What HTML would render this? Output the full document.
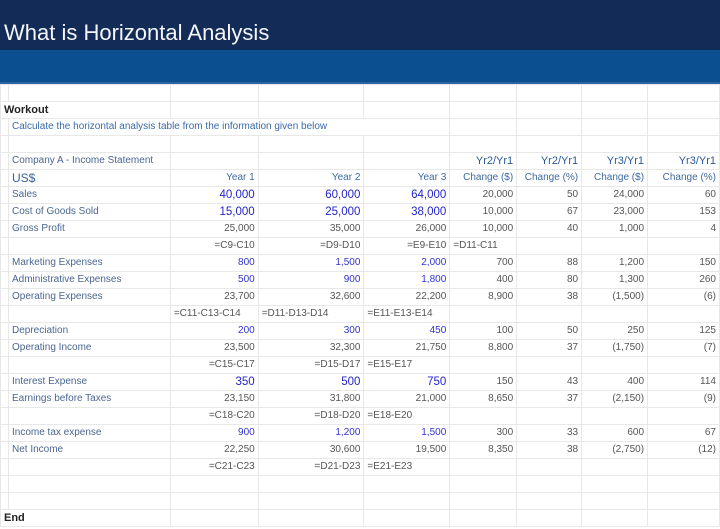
<!DOCTYPE html>
<html><head><meta charset="utf-8"><style>
body{margin:0;width:720px;height:529px;overflow:hidden;background:#fff;font-family:"Liberation Sans",sans-serif;position:relative}
.top{position:absolute;left:0;top:0;width:720px;height:50px;background:#132b57}
.title{position:absolute;left:4px;top:20px;color:#f4f6fa;font-size:22px;line-height:26px}
.band{position:absolute;left:0;top:50px;width:720px;height:32px;background:#0b4f91;border-bottom:2px solid #2a66a6}
table{position:absolute;left:0;top:84px;border-collapse:collapse;table-layout:fixed}
td{height:16px;padding:0 3px;border:1px solid #e8e8e8;font-size:10px;line-height:16px;color:#555;text-align:right;white-space:nowrap;overflow:visible}
td.l{text-align:left;color:#4a6690}
.b{color:#3333cc}.B{color:#2424c8;font-size:11.5px}
.h{color:#2a5a9a;font-size:11px}.hs{color:#3f6aa0;font-size:10px}
</style></head><body>
<div class="top"><div class="title">What is Horizontal Analysis</div></div>
<div class="band"></div>
<table>
<colgroup><col style="width:8px"><col style="width:162px"><col style="width:88px"><col style="width:106px"><col style="width:86px"><col style="width:67px"><col style="width:65px"><col style="width:66px"><col style="width:72px"></colgroup>
<tr><td></td><td></td><td></td><td></td><td></td><td></td><td></td><td></td><td></td></tr>
<tr><td class="l" colspan="2" style="color:#222;font-weight:bold;font-size:11px">Workout</td><td></td><td></td><td></td><td></td><td></td><td></td><td></td></tr>
<tr><td></td><td class="l" colspan="4" style="color:#3a6aa8">Calculate the horizontal analysis table from the information given below</td><td></td><td></td><td></td><td></td></tr>
<tr><td></td><td></td><td></td><td></td><td></td><td></td><td></td><td></td><td></td></tr>
<tr><td></td><td class="l">Company A - Income Statement</td><td></td><td></td><td></td><td class="h">Yr2/Yr1</td><td class="h">Yr2/Yr1</td><td class="h">Yr3/Yr1</td><td class="h">Yr3/Yr1</td></tr>
<tr><td></td><td class="l" style="font-size:12px;color:#3a5f95">US$</td><td class="hs">Year 1</td><td class="hs">Year 2</td><td class="hs">Year 3</td><td class="hs">Change ($)</td><td class="hs">Change (%)</td><td class="hs">Change ($)</td><td class="hs">Change (%)</td></tr>
<tr><td></td><td class="l">Sales</td><td class="B">40,000</td><td class="B">60,000</td><td class="B">64,000</td><td>20,000</td><td>50</td><td>24,000</td><td>60</td></tr>
<tr><td></td><td class="l">Cost of Goods Sold</td><td class="B">15,000</td><td class="B">25,000</td><td class="B">38,000</td><td>10,000</td><td>67</td><td>23,000</td><td>153</td></tr>
<tr><td></td><td class="l">Gross Profit</td><td>25,000</td><td>35,000</td><td>26,000</td><td>10,000</td><td>40</td><td>1,000</td><td>4</td></tr>
<tr><td></td><td></td><td>=C9-C10</td><td>=D9-D10</td><td>=E9-E10</td><td class="l" style="color:#555">=D11-C11</td><td></td><td></td><td></td></tr>
<tr><td></td><td class="l">Marketing Expenses</td><td class="b">800</td><td class="b">1,500</td><td class="b">2,000</td><td>700</td><td>88</td><td>1,200</td><td>150</td></tr>
<tr><td></td><td class="l">Administrative Expenses</td><td class="b">500</td><td class="b">900</td><td class="b">1,800</td><td>400</td><td>80</td><td>1,300</td><td>260</td></tr>
<tr><td></td><td class="l">Operating Expenses</td><td>23,700</td><td>32,600</td><td>22,200</td><td>8,900</td><td>38</td><td>(1,500)</td><td>(6)</td></tr>
<tr><td></td><td></td><td class="l" style="color:#555">=C11-C13-C14</td><td class="l" style="color:#555">=D11-D13-D14</td><td class="l" style="color:#555">=E11-E13-E14</td><td></td><td></td><td></td><td></td></tr>
<tr><td></td><td class="l">Depreciation</td><td class="b">200</td><td class="b">300</td><td class="b">450</td><td>100</td><td>50</td><td>250</td><td>125</td></tr>
<tr><td></td><td class="l">Operating Income</td><td>23,500</td><td>32,300</td><td>21,750</td><td>8,800</td><td>37</td><td>(1,750)</td><td>(7)</td></tr>
<tr><td></td><td></td><td>=C15-C17</td><td>=D15-D17</td><td class="l" style="color:#555">=E15-E17</td><td></td><td></td><td></td><td></td></tr>
<tr><td></td><td class="l">Interest Expense</td><td class="B">350</td><td class="B">500</td><td class="B">750</td><td>150</td><td>43</td><td>400</td><td>114</td></tr>
<tr><td></td><td class="l">Earnings before Taxes</td><td>23,150</td><td>31,800</td><td>21,000</td><td>8,650</td><td>37</td><td>(2,150)</td><td>(9)</td></tr>
<tr><td></td><td></td><td>=C18-C20</td><td>=D18-D20</td><td class="l" style="color:#555">=E18-E20</td><td></td><td></td><td></td><td></td></tr>
<tr><td></td><td class="l">Income tax expense</td><td class="b">900</td><td class="b">1,200</td><td class="b">1,500</td><td>300</td><td>33</td><td>600</td><td>67</td></tr>
<tr><td></td><td class="l">Net Income</td><td>22,250</td><td>30,600</td><td>19,500</td><td>8,350</td><td>38</td><td>(2,750)</td><td>(12)</td></tr>
<tr><td></td><td></td><td>=C21-C23</td><td>=D21-D23</td><td class="l" style="color:#555">=E21-E23</td><td></td><td></td><td></td><td></td></tr>
<tr><td></td><td></td><td></td><td></td><td></td><td></td><td></td><td></td><td></td></tr>
<tr><td></td><td></td><td></td><td></td><td></td><td></td><td></td><td></td><td></td></tr>
<tr><td class="l" colspan="2" style="color:#222;font-weight:bold;font-size:11px">End</td><td></td><td></td><td></td><td></td><td></td><td></td><td></td></tr>
</table>
</body></html>
